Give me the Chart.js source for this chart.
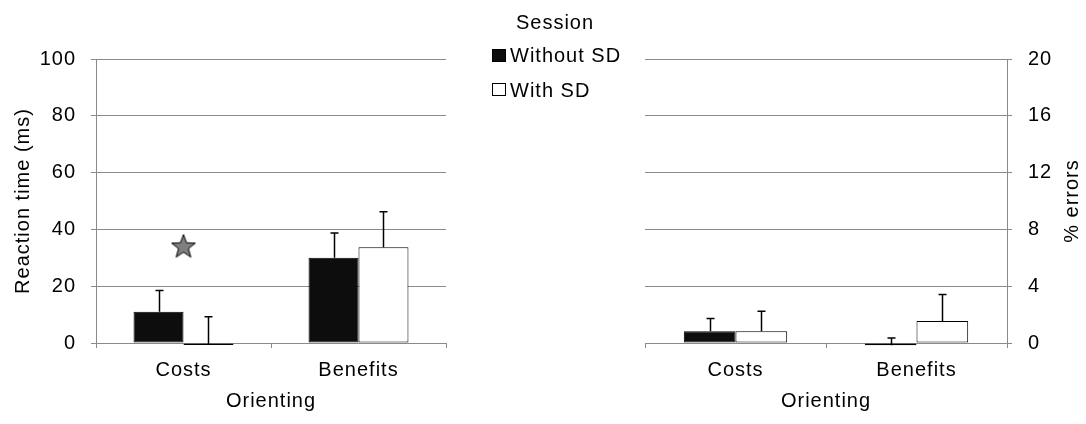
<!DOCTYPE html>
<html><head><meta charset="utf-8">
<script src="https://cdn.jsdelivr.net/npm/chart.js@4/dist/chart.umd.min.js"></script>
<style>
html,body{margin:0;padding:0;background:#fff;}
#wrap{position:relative;width:1086px;height:424px;overflow:hidden;background:#fff;}
#wrap canvas{position:absolute;top:0;}
#legend{position:absolute;left:0;top:0;width:1086px;height:0;font-family:"Liberation Sans",Arial,sans-serif;font-size:20px;line-height:24px;letter-spacing:1px;color:#000;}
#legend .t{position:absolute;white-space:nowrap;}
#legend .m{position:absolute;box-sizing:border-box;border:1px solid #000;}
</style></head><body>
<div id="wrap">
<canvas id="rt" width="543" height="424" style="left:0px"></canvas>
<canvas id="er" width="543" height="424" style="left:543px"></canvas>
<div id="legend"></div>
</div>
<script>
// ---- data ----
const categories = ['Costs', 'Benefits'];
const seriesNames = ['Without SD', 'With SD'];
const rtWithout = [11, 30];
const rtWith = [-0.5, 33.7];
const rtWithoutSD = [7.5, 8.7];
const rtWithSD = [9.7, 12.5];
const errWithout = [0.83, -0.15];
const errWith = [0.83, 1.55];
const errWithoutSD = [0.9, 0.5];
const errWithSD = [1.4, 1.87];
const rtTicks = [0, 20, 40, 60, 80, 100];
const errTicks = [0, 4, 8, 12, 16, 20];
const starData = [34, null];
const xTitle = 'Orienting';
const rtTitle = 'Reaction time (ms)';
const errTitle = '% errors';
const legendTitle = 'Session';

// ---- styles ----
const FONT = '"Liberation Sans", Arial, sans-serif';
const GRID = '#8a8a8a';
const FILLS = ['#0d0d0d', '#ffffff'];
Chart.defaults.font.family = FONT;
Chart.defaults.font.size = 20;
Chart.defaults.color = '#000';

const spacing = {
  id: 'spacing',
  beforeLayout(c) { c.ctx.letterSpacing = '1px'; },
  beforeDraw(c) { c.ctx.letterSpacing = '1px'; }
};

const errorBars = {
  id: 'errorBars',
  afterDatasetsDraw(chart) {
    const ctx = chart.ctx;
    const y = chart.scales.y;
    ctx.save();
    ctx.strokeStyle = '#000';
    ctx.lineWidth = 1.5;
    chart.data.datasets.forEach((ds, di) => {
      if (!ds.sd) return;
      const meta = chart.getDatasetMeta(di);
      meta.data.forEach((bar, i) => {
        const v = ds.data[i];
        const top = y.getPixelForValue(v + ds.sd[i]);
        const base = y.getPixelForValue(v);
        const x = Math.round(bar.x) + 0.5;
        ctx.beginPath();
        ctx.moveTo(x, base);
        ctx.lineTo(x, top);
        ctx.moveTo(x - 4, top);
        ctx.lineTo(x + 4, top);
        ctx.stroke();
      });
    });
    ctx.restore();
  }
};

function makeStar() {
  const c = document.createElement('canvas');
  c.width = 28; c.height = 28;
  const g = c.getContext('2d');
  g.beginPath();
  for (let k = 0; k < 10; k++) {
    const r = k % 2 === 0 ? 12.5 : 5.2;
    const a = -Math.PI / 2 + k * Math.PI / 5;
    const px = 14 + r * Math.cos(a), py = 14.5 + r * Math.sin(a);
    if (k === 0) g.moveTo(px, py); else g.lineTo(px, py);
  }
  g.closePath();
  g.fillStyle = '#7f7f7f';
  g.fill();
  g.lineWidth = 1;
  g.strokeStyle = '#000';
  g.stroke();
  return c;
}

function barSet(label, data, sd, idx) {
  return {
    label, data, sd,
    backgroundColor: FILLS[idx],
    borderColor: '#000',
    borderWidth: 1,
    borderSkipped: false,
    minBarLength: 2,
    clip: false,
    categoryPercentage: 0.571,
    barPercentage: 1
  };
}

function xScale() {
  return {
    grid: { offset: true, drawOnChartArea: false, drawTicks: true, tickLength: 5, color: GRID },
    border: { display: true, color: GRID },
    ticks: { padding: 10, color: '#000' },
    title: { display: true, text: xTitle, color: '#000', padding: { top: 0, bottom: 11 } },
    afterFit(s) { s.height = 81; }
  };
}

const rtChart = new Chart(document.getElementById('rt'), {
  type: 'bar',
  data: {
    labels: categories,
    datasets: [
      barSet(seriesNames[0], rtWithout, rtWithoutSD, 0),
      barSet(seriesNames[1], rtWith, rtWithSD, 1),
      { type: 'line', label: 'significant', data: starData, showLine: false,
        pointStyle: makeStar(), pointRadius: 12, order: -1 }
    ]
  },
  options: {
    responsive: false, animation: false, events: [],
    layout: { padding: { left: 0, right: 97, top: 59, bottom: 0 } },
    plugins: { legend: { display: false }, tooltip: { enabled: false } },
    scales: {
      x: xScale(),
      y: {
        min: rtTicks[0], max: rtTicks[rtTicks.length - 1],
        ticks: { stepSize: rtTicks[1] - rtTicks[0], padding: 15, color: '#000' },
        grid: { color: GRID, tickLength: 5 },
        border: { display: true, color: GRID },
        title: { display: true, text: rtTitle, color: '#000', padding: { top: 11, bottom: 0 } },
        afterFit(s) { s.width = 96; }
      }
    }
  },
  plugins: [spacing, errorBars]
});

const rightTitle = {
  id: 'rightTitle',
  afterDraw(chart) {
    const ctx = chart.ctx;
    const s = chart.scales.y;
    ctx.save();
    ctx.letterSpacing = '1px';
    ctx.font = '20px ' + FONT;
    ctx.fillStyle = '#000';
    ctx.textAlign = 'center';
    ctx.textBaseline = 'middle';
    ctx.translate(s.right - 14, (chart.chartArea.top + chart.chartArea.bottom) / 2);
    ctx.rotate(-Math.PI / 2);
    ctx.fillText(errTitle, 0, 0);
    ctx.restore();
  }
};

const erChart = new Chart(document.getElementById('er'), {
  type: 'bar',
  data: {
    labels: categories,
    datasets: [
      barSet(seriesNames[0], errWithout, errWithoutSD, 0),
      barSet(seriesNames[1], errWith, errWithSD, 1)
    ]
  },
  options: {
    responsive: false, animation: false, events: [],
    layout: { padding: { left: 102, right: 0, top: 59, bottom: 0 } },
    plugins: { legend: { display: false }, tooltip: { enabled: false } },
    scales: {
      x: xScale(),
      y: {
        position: 'right',
        min: errTicks[0], max: errTicks[errTicks.length - 1],
        ticks: { stepSize: errTicks[1] - errTicks[0], padding: 16, color: '#000' },
        grid: { color: GRID, tickLength: 5 },
        border: { display: true, color: GRID },
        title: { display: false },
        afterFit(s) { s.width = 79; }
      }
    }
  },
  plugins: [spacing, errorBars, rightTitle]
});

// ---- legend (built from the chart's datasets) ----
(function () {
  const lg = document.getElementById('legend');
  const title = document.createElement('div');
  title.className = 't';
  title.style.left = '455px';
  title.style.width = '200px';
  title.style.textAlign = 'center';
  title.style.top = '10px';
  title.textContent = legendTitle;
  lg.appendChild(title);
  const rowTops = [43, 77.5];
  rtChart.data.datasets.filter(d => d.sd).forEach((ds, i) => {
    const m = document.createElement('span');
    m.className = 'm';
    m.style.left = '492px';
    m.style.top = (rowTops[i] + 5.5) + 'px';
    m.style.width = '14px';
    m.style.height = '13px';
    m.style.background = ds.backgroundColor;
    lg.appendChild(m);
    const t = document.createElement('span');
    t.className = 't';
    t.style.left = '510px';
    t.style.top = rowTops[i] + 'px';
    t.textContent = ds.label;
    lg.appendChild(t);
  });
})();
</script>
</body></html>
